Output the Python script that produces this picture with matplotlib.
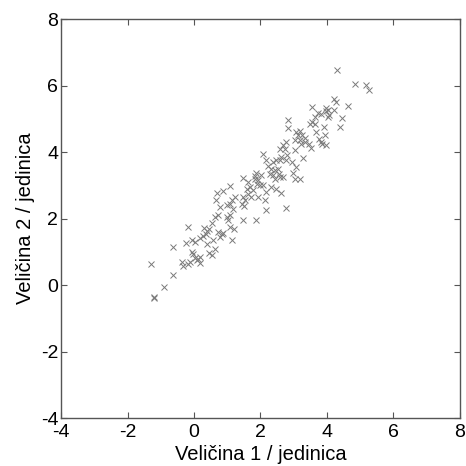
import matplotlib
matplotlib.use("Agg")
import matplotlib.pyplot as plt
import numpy as np

plt.rcParams["font.family"] = ["Liberation Sans", "DejaVu Sans"]
plt.rcParams["axes.unicode_minus"] = False

# values
x_vals = [4.29, 4.85, 5.16, 5.26, 4.20, 4.26, 3.96, 4.03, 3.56, 4.63,
          3.73, 3.83, 4.06, 4.22, 4.46, 4.38, 2.84, 2.84, 3.56, 3.65,
          3.48, 3.91, 3.08, 3.20, 3.26, 3.35, 3.18, 3.03, 3.45, 3.53,
          3.76, 3.83, 3.98, 3.86, 2.68, 2.73, 3.05, 3.28, 2.81, 2.78,
          2.63, 2.58, 2.08, 2.38, 2.48, 2.18, 2.23, 2.33, 2.43, 2.55,
          2.68, 2.95, 3.08, 2.98, 3.05, 3.18, 1.48, 1.83, 1.93, 1.88,
          2.00, 1.68, 1.58, 1.78, 2.08, 2.16, 2.33, 2.48, 2.63, 2.43,
          2.58, 1.08, 0.70, 0.88, 0.66, 0.78, 0.98, 1.08, 1.15, 1.23,
          1.18, 1.48, 1.53, 1.63, 1.70, 1.93, 2.13, 2.16, 2.76, 1.48,
          1.85, 0.71, 0.63, 0.98, 1.03, 1.08, 1.20, 1.15, -0.17, 0.30,
          0.38, 0.46, 0.53, 0.73, 0.83, 0.88, 0.78, 0.58, -0.24, -0.07,
          0.03, 0.18, 0.26, 0.38, 0.63, 0.46, 0.53, -0.62, -0.07, -0.02,
          0.03, 0.08, 0.13, 0.18, -0.12, -0.37, -0.32, -0.17, 0.18, -1.30,
          -0.64, -0.89, -1.20, -1.20, 1.44, 1.51, 1.08, 0.36, 1.86, 2.01,
          1.63, 1.83, 2.28, 2.38, 2.53, 3.13, 3.23, 3.33, 3.63, 3.98,
          4.03, 3.68, 3.93, 2.78, 2.58]
y_vals = [6.47, 6.05, 6.02, 5.88, 5.60, 5.51, 5.32, 5.27, 5.35, 5.38,
          5.17, 5.15, 5.12, 5.28, 5.02, 4.75, 4.97, 4.72, 4.90, 4.85,
          4.85, 4.75, 4.60, 4.63, 4.50, 4.43, 4.37, 4.35, 4.23, 4.12,
          4.40, 4.30, 4.22, 4.23, 4.22, 4.10, 4.05, 3.82, 3.90, 3.75,
          3.85, 3.75, 3.93, 3.70, 3.75, 3.75, 3.57, 3.50, 3.45, 3.35,
          3.25, 3.70, 3.55, 3.38, 3.20, 3.18, 3.22, 3.27, 3.15, 3.05,
          3.00, 2.95, 2.90, 2.85, 3.00, 2.80, 2.95, 2.90, 2.77, 3.20,
          3.25, 2.99, 2.77, 2.82, 2.55, 2.35, 2.40, 2.45, 2.57, 2.65,
          2.30, 2.65, 2.55, 2.75, 2.65, 2.65, 2.55, 2.27, 2.32, 1.95,
          1.95, 2.10, 2.05, 2.05, 1.95, 1.75, 1.70, 1.35, 1.75, 1.72,
          1.63, 1.70, 1.87, 1.60, 1.55, 1.57, 1.45, 1.35, 1.27, 1.35,
          1.30, 1.43, 1.47, 1.23, 1.08, 0.95, 0.90, 1.13, 1.00, 0.93,
          0.80, 0.75, 0.78, 0.85, 0.70, 0.70, 0.58, 0.63, 0.65, 0.63,
          0.30, -0.07, -0.35, -0.40, 2.43, 2.37, 2.10, 1.55, 3.37, 3.30,
          3.10, 3.20, 3.35, 3.30, 3.50, 4.50, 4.25, 4.30, 5.05, 5.25,
          5.05, 4.60, 4.50, 4.30, 4.10]

ticks = [-4, -2, 0, 2, 4, 6, 8]

fig = plt.figure(figsize=(4.66, 4.66), dpi=100)
ax = fig.add_axes([0.131, 0.103, 0.856, 0.856])

ax.plot(x_vals, y_vals, "x", color="#7a7a7a", markersize=4, markeredgewidth=0.7)

ax.set_xlim(-4, 8)
ax.set_ylim(-4, 8)
ax.set_xticks(ticks)
ax.set_yticks(ticks)
ax.tick_params(direction="in", length=4, width=0.8, color="#555555",
               top=True, right=True, labelsize=14)
ax.tick_params(axis="x", pad=4)
ax.tick_params(axis="y", pad=2)
for s in ax.spines.values():
    s.set_color("#555555")
    s.set_linewidth(1.0)

ax.set_xlabel("Veličina 1 / jedinica", fontsize=14.5, labelpad=3)
ax.set_ylabel("Veličina 2 / jedinica", fontsize=14.5, labelpad=4)

fig.savefig("out.png", dpi=100)
